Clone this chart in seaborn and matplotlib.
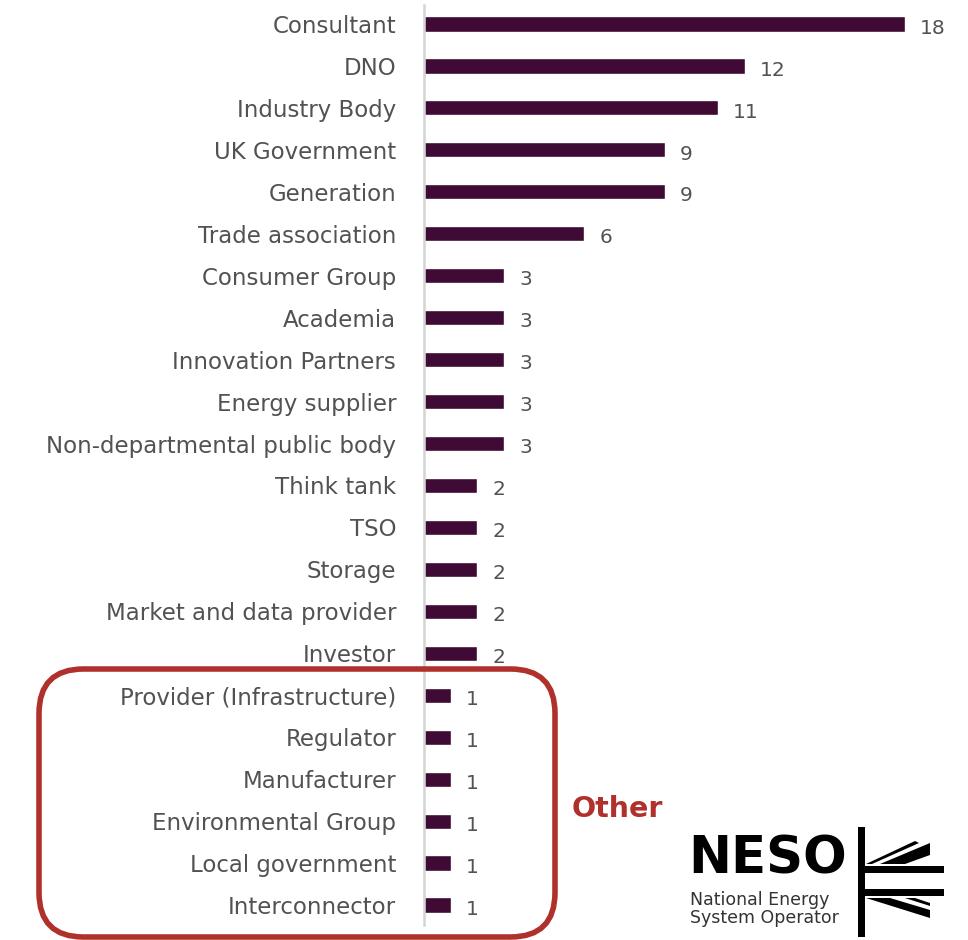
import matplotlib
matplotlib.use("Agg")
import matplotlib.pyplot as plt
import seaborn as sns
import pandas as pd
from matplotlib.patches import FancyBboxPatch, Polygon

categories = [
    "Consultant", "DNO", "Industry Body", "UK Government", "Generation",
    "Trade association", "Consumer Group", "Academia", "Innovation Partners",
    "Energy supplier", "Non-departmental public body", "Think tank", "TSO",
    "Storage", "Market and data provider", "Investor",
    "Provider (Infrastructure)", "Regulator", "Manufacturer",
    "Environmental Group", "Local government", "Interconnector",
]
counts = [18, 12, 11, 9, 9, 6, 3, 3, 3, 3, 3, 2, 2, 2, 2, 2, 1, 1, 1, 1, 1, 1]

BAR = "#3f0a33"
RED = "#b0312b"
TEXT = "#525252"

sns.set_theme(style="white")
plt.rcParams["font.family"] = ["DejaVu Sans"]

df = pd.DataFrame({"category": categories, "count": counts})

W, H = 968, 940
fig = plt.figure(figsize=(W / 100, H / 100), dpi=100)
px_per_unit = (905 - 424) / 18
ax_left, ax_right = 424, 968
ax_top, ax_bottom = 5, 925
ax = fig.add_axes([ax_left / W, 1 - ax_bottom / H,
                   (ax_right - ax_left) / W, (ax_bottom - ax_top) / H])

sns.barplot(data=df, x="count", y="category", orient="h", color=BAR,
            width=0.36, saturation=1, ax=ax)

ax.set_xlim(0, (ax_right - ax_left) / px_per_unit)
step = (905 - 24) / 21
ax.set_ylim(21 + (ax_bottom - 905) / step, -(24 - ax_top) / step)

for i, v in enumerate(counts):
    ax.annotate(str(v), xy=(v, i), xytext=(11, -3), textcoords="offset points",
                va="center", ha="left", fontsize=14.5, color=TEXT)

ax.set_xlabel("")
ax.set_ylabel("")
ax.set_xticks([])
ax.tick_params(axis="y", length=0, pad=20, labelsize=16.5, labelcolor=TEXT)
for s in ["top", "right", "bottom"]:
    ax.spines[s].set_visible(False)
ax.spines["left"].set_color("#d4d4d4")
ax.spines["left"].set_linewidth(1.8)

# Rounded box grouping the single-response categories
fig.patches.append(FancyBboxPatch(
    (39 / W, 1 - 937 / H), (555 - 39) / W, (937 - 669) / H,
    boxstyle="round,pad=0,rounding_size=0.046",
    transform=fig.transFigure, fill=False, edgecolor=RED, linewidth=4,
    mutation_aspect=W / H))
fig.text(572 / W, 1 - 809 / H, "Other", color=RED, fontsize=20.5,
         fontweight="bold", va="center", ha="left")

# Logo
fig.text(688 / W, 1 - 859 / H, "NESO", color="black", fontsize=37,
         fontweight="bold", va="center", ha="left")
fig.text(690 / W, 1 - 900 / H, "National Energy", color="#333333",
         fontsize=12.5, va="center", ha="left")
fig.text(690 / W, 1 - 918 / H, "System Operator", color="#333333",
         fontsize=12.5, va="center", ha="left")


def fpoly(pts):
    fig.patches.append(Polygon([(x / W, 1 - y / H) for x, y in pts],
                               closed=True, transform=fig.transFigure,
                               facecolor="black", edgecolor="none"))


fpoly([(858, 827), (865, 827), (865, 937), (858, 937)])
fpoly([(858, 866), (944, 866), (944, 873), (858, 873)])
fpoly([(858, 889), (944, 889), (944, 896), (858, 896)])
fpoly([(866, 864), (915, 841), (919, 843), (872, 864)])
fpoly([(880, 864), (930, 843), (930, 855), (905, 864)])
fpoly([(866, 898), (930, 918), (930, 910), (890, 898)])
fpoly([(905, 898), (930, 906), (930, 903), (915, 898)])

fig.savefig("out.png", dpi=100, facecolor="white")
